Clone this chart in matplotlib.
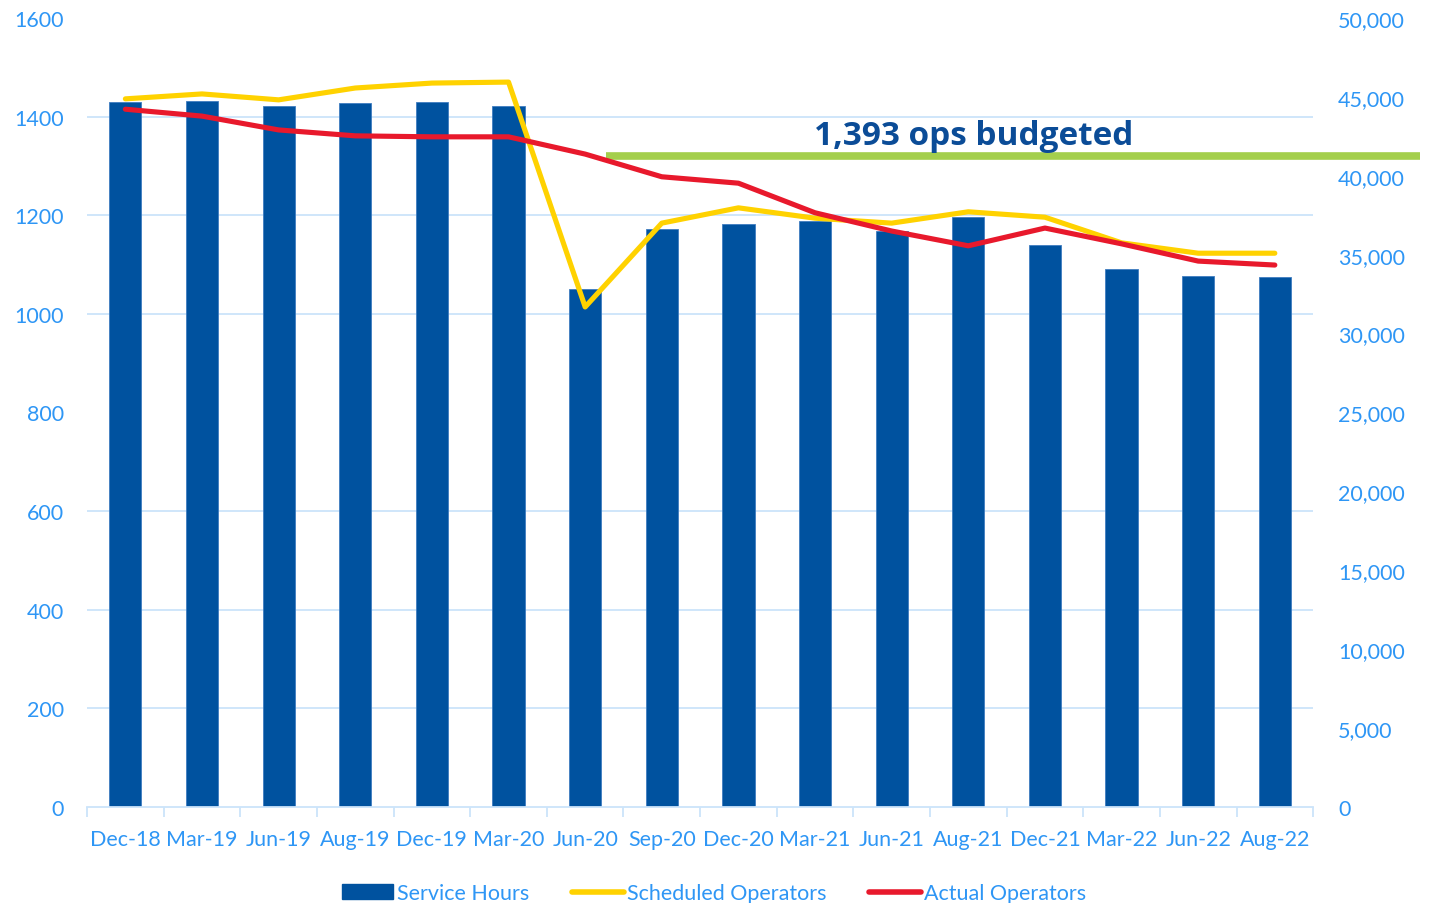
import matplotlib
matplotlib.use("Agg")
import matplotlib.pyplot as plt
from matplotlib.patches import Patch
from matplotlib.lines import Line2D
from matplotlib.ticker import MultipleLocator, FuncFormatter, FixedLocator
import numpy as np

categories = ["Dec-18", "Mar-19", "Jun-19", "Aug-19", "Dec-19", "Mar-20", "Jun-20", "Sep-20",
              "Dec-20", "Mar-21", "Jun-21", "Aug-21", "Dec-21", "Mar-22", "Jun-22", "Aug-22"]
service_hours = [44680, 44740, 44420, 44610, 44680, 44420, 32830, 36630,
                 36950, 37140, 36500, 37390, 35620, 34090, 33650, 33590]
scheduled_ops = [1436, 1446, 1434, 1458, 1468, 1470, 1014, 1184,
                 1215, 1194, 1184, 1207, 1196, 1144, 1123, 1123]
actual_ops = [1415, 1401, 1373, 1361, 1359, 1359, 1324, 1278,
              1265, 1205, 1168, 1138, 1174, 1142, 1107, 1099]
budget_level = 1320
budget_label = "1,393 ops budgeted"

plt.rcParams['font.family'] = ['Lato', 'DejaVu Sans']

BAR = "#00529F"
YEL = "#FFD200"
RED = "#E8192C"
GRN = "#A4CF4C"
TXT = "#2E96F5"
GRID = "#CCE4FA"
FS = 15.5

fig = plt.figure(figsize=(14.32, 9.04), dpi=100)
ax = fig.add_axes([0.0608, 0.1062, 0.8562, 0.8728])
ax2 = ax.twinx()

x = np.arange(len(categories))
ax.bar(x, service_hours, width=0.42, color=BAR, edgecolor="#3F7CC0", linewidth=0.6, zorder=2)
ax.set_ylim(0, 50000)
ax.set_xlim(-0.5, len(categories) - 0.5)
ax.yaxis.tick_right()
ax.yaxis.set_label_position("right")
ax.yaxis.set_major_locator(MultipleLocator(5000))
ax.yaxis.set_major_formatter(FuncFormatter(lambda v, p: f"{int(v):,}"))
ax.yaxis.set_minor_locator(MultipleLocator(6250))
ax.grid(which='minor', axis='y', color=GRID, linewidth=1.3)
ax.set_axisbelow(True)
ax.tick_params(axis='y', which='both', length=0, labelsize=FS, labelcolor=TXT, pad=18)
for lab in ax.get_yticklabels():
    lab.set_horizontalalignment('left')

ax.set_xticks(x)
ax.set_xticklabels(categories)
ax.xaxis.set_minor_locator(FixedLocator(np.arange(-0.5, len(categories), 1.0)))
ax.tick_params(axis='x', which='major', length=0, labelsize=FS, labelcolor=TXT, pad=16)
ax.tick_params(axis='x', which='minor', length=7, color=GRID, width=1.3)

for s in ["left", "right", "top"]:
    ax.spines[s].set_visible(False)
    ax2.spines[s].set_visible(False)
ax.spines["bottom"].set_color(GRID)
ax.spines["bottom"].set_linewidth(1.3)
ax2.spines["bottom"].set_visible(False)

ax2.set_ylim(0, 1600)
ax2.yaxis.tick_left()
ax2.yaxis.set_label_position("left")
ax2.yaxis.set_major_locator(MultipleLocator(200))
ax2.tick_params(axis='y', length=0, labelsize=FS, labelcolor=TXT, pad=16.5)

ax2.plot([6.27, 16.9], [budget_level, budget_level], color=GRN, lw=5.5,
         solid_capstyle='butt', clip_on=False, zorder=2)
ax2.plot(x, scheduled_ops, color=YEL, lw=3.7, solid_capstyle='round', zorder=3)
ax2.plot(x, actual_ops, color=RED, lw=3.7, solid_capstyle='round', zorder=4)
ax2.text(11.07, budget_level + 9, budget_label, ha='center', va='bottom',
         fontsize=24, fontweight='bold', color="#0B4C97", family=['Open Sans', 'DejaVu Sans'])

handles = [Patch(facecolor=BAR, edgecolor=BAR),
           Line2D([0], [0], color=YEL, lw=4, solid_capstyle='round'),
           Line2D([0], [0], color=RED, lw=4, solid_capstyle='round')]
labels = ["Service Hours", "Scheduled Operators", "Actual Operators"]
leg = fig.legend(handles, labels, loc='center', bbox_to_anchor=(0.4986, 0.011), ncol=3,
                 frameon=False, fontsize=FS, handlelength=2.4, handleheight=0.7,
                 handletextpad=0.15, columnspacing=2.0, labelcolor=TXT)

fig.savefig("out.png", dpi=100)
